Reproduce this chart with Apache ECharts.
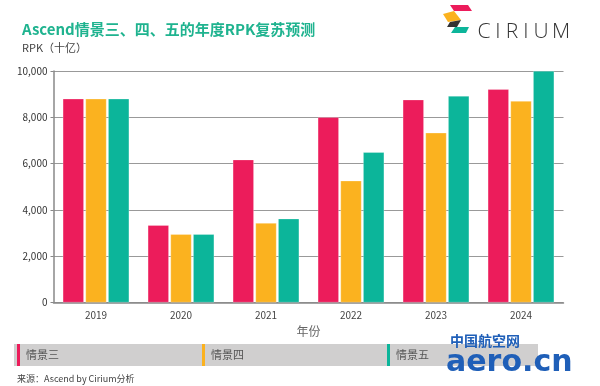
<!DOCTYPE html>
<html><head><meta charset="utf-8">
<script src="https://cdn.jsdelivr.net/npm/echarts@6/dist/echarts.min.js"></script>
<style>html,body{margin:0;padding:0;background:#fff}#c{width:600px;height:386px}</style>
</head><body><div id="c"></div>
<script>
const years = ['2019','2020','2021','2022','2023','2024'];
const scenario3 = [8800, 3340, 6170, 8000, 8760, 9210];
const scenario4 = [8800, 2950, 3430, 5260, 7330, 8700];
const scenario5 = [8800, 2950, 3620, 6490, 8920, 10000];
const seriesNames = ['情景三','情景四','情景五'];
const yTicks = [0, 2000, 4000, 6000, 8000, 10000];
const colors = ['#ec1c5b','#fbb21f','#0cb59a'];

const chart = echarts.init(document.getElementById('c'));
const font = '"Noto Sans CJK SC", "Noto Sans", sans-serif';
const legendItems = [];
const legendX = [17, 202, 387];
seriesNames.forEach((n,i)=>{
  legendItems.push({type:'rect', shape:{x:legendX[i], y:344, width:3, height:22}, style:{fill:colors[i]}, z:5});
  legendItems.push({type:'text', left:legendX[i]+9, top:349, style:{text:n, font:'11px '+font, fill:'#555'}, z:5});
});
const logoLetters = 'CIRIUM'.split('');
const logoX = [484, 498, 512, 526, 541, 561];
const logoText = logoLetters.map((ch,i)=>({type:'text', x:logoX[i], y:22,
  style:{text:ch, font:'300 21px "Open Sans", sans-serif', fill:'#333', align:'center'}}));
chart.setOption({
  animation:false,
  textStyle:{fontFamily:font},
  grid:{left:53.5, right:36.5, top:71, bottom:83.5, containLabel:false},
  xAxis:{type:'category', data:years, name:'年份', nameLocation:'middle', nameGap:23,
    nameTextStyle:{fontSize:12, color:'#666'},
    axisLine:{lineStyle:{color:'#888', width:1.5}}, axisTick:{show:false},
    axisLabel:{fontSize:10, color:'#444', margin:8}},
  yAxis:{type:'value', min:0, max:10000, interval:2000,
    axisLine:{show:true, lineStyle:{color:'#888', width:1.5}},
    axisTick:{show:true, length:3, lineStyle:{color:'#888'}},
    axisLabel:{fontSize:10, color:'#333', margin:6, formatter:v=>yTicks.includes(v)?v.toLocaleString('en-US'):''},
    splitLine:{lineStyle:{color:'#999', width:1.2}}},
  series:[scenario3, scenario4, scenario5].map((d,i)=>({
    name:seriesNames[i], type:'bar', data:d, barWidth:21, barGap:'8%',
    itemStyle:{color:colors[i], borderColor:'rgba(255,255,255,0.5)', borderWidth:0.5}
  })),
  graphic:[
    {type:'text', left:22, top:22, style:{text:'Ascend情景三、四、五的年度RPK复苏预测', font:'bold 15px '+font, fill:'#1fb38f'}},
    {type:'text', left:22, top:42, style:{text:'RPK（十亿）', font:'11px '+font, fill:'#444'}},
    {type:'rect', shape:{x:14, y:344, width:524, height:22}, style:{fill:'#d0cfcf'}, z:1},
    ...legendItems,
    {type:'text', left:17, top:374, style:{text:'来源：Ascend by Cirium分析', font:'9px '+font, fill:'#444'}},
    // Cirium logo
    {type:'polygon', shape:{points:[[450,5],[468,5],[472,11],[454,11]]}, style:{fill:'#ec1c5b'}},
    {type:'polygon', shape:{points:[[443,14],[454,11],[461,20],[448,22]]}, style:{fill:'#fbb21f'}},
    {type:'polygon', shape:{points:[[450,22],[461,20],[457,27],[447,27]]}, style:{fill:'#333'}},
    {type:'polygon', shape:{points:[[455,27],[469,27],[466,33],[451,33]]}, style:{fill:'#0cb59a'}},
    ...logoText,
    // watermark
    {type:'text', left:450, top:334, style:{text:'中国航空网', font:'bold 14px '+font, fill:'#1f5fb8'}, z:6},
    {type:'text', left:446, top:348, style:{text:'aero.cn', font:'bold 30px "DejaVu Sans", sans-serif', fill:'#1f5fb8'}, z:6}
  ]
});
</script></body></html>
